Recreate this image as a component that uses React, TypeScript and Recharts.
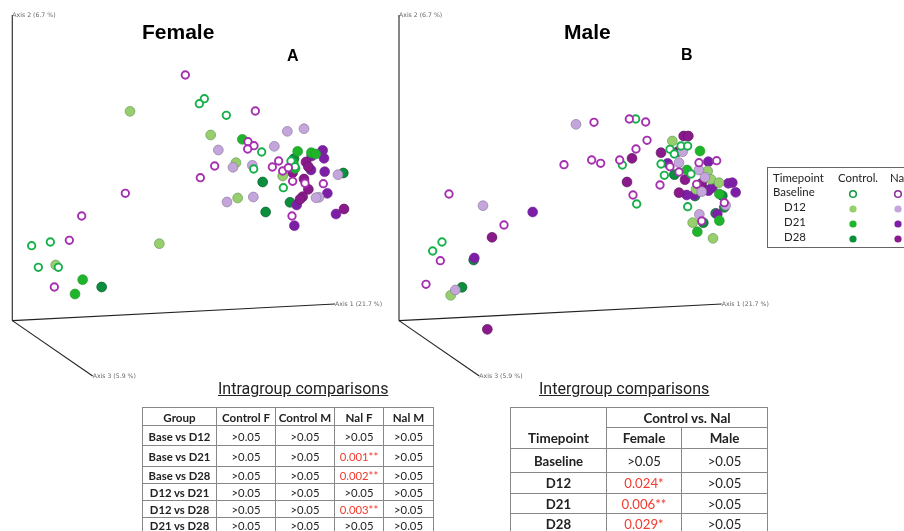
import { ScatterChart, Scatter, XAxis, YAxis, ReferenceLine, ReferenceDot } from 'recharts'

// ordination scores, [axis 1, axis 2]
const femaleBaseControl = [[576,666],[561,651],[642,616],[748,506],[724,455],[813,399],[58,225],[114,236],[78,160],[138,160],[836,479],[848,462]]
const femaleBaseNal = [[519,737],[729,629],[707,537],[725,525],[706,515],[607,464],[564,429],[339,382],[208,314],[171,241],[126,101],[799,479],[780,461],[811,449],[828,459],[841,418],[933,411],[839,314],[878,412]]
const femaleD12Control = [[353,628],[595,557],[671,474],[811,434],[676,368],[441,231],[130,167]]
const femaleD12Nal = [[825,568],[875,576],[786,523],[618,512],[662,460],[720,466],[723,371],[644,356],[920,370],[977,438],[911,369]]
const femaleD21Control = [[690,544],[856,508],[897,504],[910,500],[848,457],[211,123],[188,80],[843,472]]
const femaleD21Nal = [[931,511],[935,487],[898,494],[896,452],[937,447],[945,382],[853,347],[971,320],[846,285]]
const femaleD28Control = [[845,486],[751,416],[833,355],[760,326],[993,443],[268,101]]
const femaleD28Nal = [[881,476],[888,462],[841,444],[875,425],[888,394],[871,372],[995,335],[863,364]]

const maleBaseControl = [[710,605],[670,467],[786,470],[796,436],[713,350],[866,342],[129,236],[101,209],[813,514],[846,524],[866,524],[826,500],[876,440]]
const maleBaseNal = [[585,595],[691,605],[740,596],[744,541],[711,515],[495,468],[578,482],[605,472],[662,482],[783,407],[702,377],[150,380],[315,287],[124,180],[81,109],[953,480],[900,474],[813,462],[840,446],[908,299],[893,409],[976,354]]
const maleD12Control = [[820,539],[926,449],[936,424],[960,414],[891,394],[881,294],[942,247],[155,76]]
const maleD12Nal = [[531,589],[252,345],[169,92],[840,474],[851,507],[900,452],[918,430],[901,319],[980,346],[908,387]]
const maleD21Control = [[903,509],[864,452],[961,380],[895,267],[961,300]]
const maleD21Nal = [[401,326],[226,188],[806,472],[928,477],[988,412],[1000,414],[1010,385],[863,377],[885,377],[928,390],[940,399],[955,320]]
const maleD28Control = [[189,100],[224,182],[826,438],[928,392],[970,375],[888,374],[913,294],[950,322],[976,340]]
const maleD28Nal = [[854,554],[868,554],[786,504],[699,487],[684,416],[279,250],[265,-26],[858,423],[840,384],[908,412],[836,507]]

const timepoints = ['Baseline', 'D12', 'D21', 'D28']
const intraHead = ['Group', 'Control F', 'Control M', 'Nal F', 'Nal M']
const intraRows = [
  ['Base vs D12', '>0.05', '>0.05', '>0.05', '>0.05'],
  ['Base vs D21', '>0.05', '>0.05', '0.001**', '>0.05'],
  ['Base vs D28', '>0.05', '>0.05', '0.002**', '>0.05'],
  ['D12 vs D21', '>0.05', '>0.05', '>0.05', '>0.05'],
  ['D12 vs D28', '>0.05', '>0.05', '0.003**', '>0.05'],
  ['D21 vs D28', '>0.05', '>0.05', '>0.05', '>0.05'],
]
const intraHeights = [18, 20, 21, 17, 17, 17, 18]
const intraCols = [74, 59, 59, 49, 50]
const interRows = [
  ['Baseline', '>0.05', '>0.05'],
  ['D12', '0.024*', '>0.05'],
  ['D21', '0.006**', '>0.05'],
  ['D28', '0.029*', '>0.05'],
]
const interHeights = [24, 21, 20, 20]

const axis1 = 'Axis 1 (21.7 %)'
const axis2 = 'Axis 2 (6.7 %)'
const axis3 = 'Axis 3 (5.9 %)'

const open = { control: '#16b04a', nal: '#a52fae' }
const fills = {
  d12c: ['#97cf6c', '#6f9c62'],
  d12n: ['#c4a6dd', '#8f7d9f'],
  d21c: ['#1fb52a', '#2a9a34'],
  d21n: ['#7d1fa6', '#7a2a9a'],
  d28c: ['#0b8f3d', '#0a5a2c'],
  d28n: ['#8a1a8c', '#5f1a62'],
}

const toPts = (arr: number[][]) => arr.map(([x, y]) => ({ x, y }))
const hollow = (color: string) => (p: any) => (
  <circle cx={p.cx} cy={p.cy} r={3.7} fill="#fff" stroke={color} strokeWidth={1.9} />
)
const solid = (c: string[]) => (p: any) => (
  <circle cx={p.cx} cy={p.cy} r={4.9} fill={c[0]} stroke={c[1]} strokeWidth={0.7} />
)

const Panel = ({ xMin, series, left }: { xMin: number; series: any; left: number }) => {
  const labelStyle = { fontSize: 6.2, fill: '#666', fontFamily: 'DejaVu Sans' }
  return (
    <div style={{ position: 'absolute', left, top: 0 }}>
      <ScatterChart width={400} height={385} margin={{ top: 0, right: 0, bottom: 0, left: 0 }}>
        <XAxis type="number" dataKey="x" hide domain={[xMin, xMin + 1200]} />
        <YAxis type="number" dataKey="y" hide domain={[-193, 962]} />
        <ReferenceLine segment={[{ x: 0, y: 0 }, { x: 0, y: 917 }]} stroke="#444" strokeWidth={1.3} />
        <ReferenceLine segment={[{ x: 0, y: 0 }, { x: 968, y: 50 }]} stroke="#222" strokeWidth={1.1} />
        <ReferenceLine segment={[{ x: 0, y: 0 }, { x: 241, y: -166 }]} stroke="#222" strokeWidth={1.1} />
        <ReferenceDot x={0} y={917} r={0} label={{ value: axis2, position: 'right', offset: 0, ...labelStyle }} />
        <ReferenceDot x={968} y={50} r={0} label={{ value: axis1, position: 'right', offset: 0, ...labelStyle }} />
        <ReferenceDot x={241} y={-166} r={0} label={{ value: axis3, position: 'right', offset: 0, ...labelStyle }} />
        <Scatter data={toPts(series.d28c)} shape={solid(fills.d28c)} isAnimationActive={false} />
        <Scatter data={toPts(series.d21n)} shape={solid(fills.d21n)} isAnimationActive={false} />
        <Scatter data={toPts(series.d28n)} shape={solid(fills.d28n)} isAnimationActive={false} />
        <Scatter data={toPts(series.d21c)} shape={solid(fills.d21c)} isAnimationActive={false} />
        <Scatter data={toPts(series.d12c)} shape={solid(fills.d12c)} isAnimationActive={false} />
        <Scatter data={toPts(series.d12n)} shape={solid(fills.d12n)} isAnimationActive={false} />
        <Scatter data={toPts(series.baseC)} shape={hollow(open.control)} isAnimationActive={false} />
        <Scatter data={toPts(series.baseN)} shape={hollow(open.nal)} isAnimationActive={false} />
      </ScatterChart>
    </div>
  )
}

const abs = (left: number, top: number, extra: any = {}) => ({ position: 'absolute' as const, left, top, ...extra })
const heading = { fontFamily: 'Liberation Sans', fontWeight: 700, color: '#000', lineHeight: 1 }
const cap = { fontFamily: 'Roboto', fontSize: 16, textDecoration: 'underline', color: '#222', lineHeight: 1, whiteSpace: 'nowrap' as const }
const cell = { border: '1px solid #888', padding: 0, paddingTop: 2, textAlign: 'center' as const, fontFamily: 'Lato', whiteSpace: 'nowrap' as const, overflow: 'hidden', color: '#222', lineHeight: 1 }

const pColor = (v: string) => (v.startsWith('>') ? '#222' : '#f23a2e')

const Dot = ({ row, kind }: { row: number; kind: 'c' | 'n' }) => {
  if (row === 0) {
    return <svg width={10} height={10}><circle cx={5} cy={5} r={3.3} fill="#fff" stroke={kind === 'c' ? '#0d9a3e' : '#8c2a9a'} strokeWidth={1.5} /></svg>
  }
  const key = ['', 'd12', 'd21', 'd28'][row] + kind
  return <svg width={10} height={10}><circle cx={5} cy={5} r={3.6} fill={(fills as any)[key][0]} /></svg>
}

const Legend = () => (
  <div style={abs(767, 167, { width: 160, height: 81, border: '1px solid #666', boxSizing: 'border-box', fontFamily: 'Lato', fontSize: 11.4, color: '#222', background: '#fff' })}>
    <span style={abs(5, 3)}>Timepoint</span>
    <span style={abs(70, 3)}>Control.</span>
    <span style={abs(122, 3)}>Nal</span>
    {timepoints.map((t, i) => (
      <div key={t}>
        <span style={abs(i === 0 ? 5 : 16, 17 + i * 15)}>{t}</span>
        <span style={abs(80, 20 + i * 15)}><Dot row={i} kind="c" /></span>
        <span style={abs(125, 20 + i * 15)}><Dot row={i} kind="n" /></span>
      </div>
    ))}
  </div>
)

const App = () => (
  <div style={{ position: 'absolute', left: 0, top: 0, width: 904, height: 531, overflow: 'hidden', background: '#fff', filter: 'blur(0.45px)' }}>
    <Panel left={0} xMin={-37} series={{ baseC: femaleBaseControl, baseN: femaleBaseNal, d12c: femaleD12Control, d12n: femaleD12Nal, d21c: femaleD21Control, d21n: femaleD21Nal, d28c: femaleD28Control, d28n: femaleD28Nal }} />
    <Panel left={395} xMin={-12} series={{ baseC: maleBaseControl, baseN: maleBaseNal, d12c: maleD12Control, d12n: maleD12Nal, d21c: maleD21Control, d21n: maleD21Nal, d28c: maleD28Control, d28n: maleD28Nal }} />

    <div style={abs(142, 21, { ...heading, fontSize: 21 })}>Female</div>
    <div style={abs(287, 48, { ...heading, fontSize: 16 })}>A</div>
    <div style={abs(564, 21, { ...heading, fontSize: 21 })}>Male</div>
    <div style={abs(681, 47, { ...heading, fontSize: 16 })}>B</div>

    <Legend />

    <div style={abs(218, 381, cap)}>Intragroup comparisons</div>
    <div style={abs(539, 381, cap)}>Intergroup comparisons</div>

    <table style={abs(142, 407, { borderCollapse: 'collapse', tableLayout: 'fixed', width: 291 })}>
      <colgroup>{intraCols.map((w, i) => <col key={i} style={{ width: w }} />)}</colgroup>
      <tbody>
        <tr style={{ height: intraHeights[0] }}>
          {intraHead.map(h => <td key={h} style={{ ...cell, fontWeight: 700, fontSize: 11.6 }}>{h}</td>)}
        </tr>
        {intraRows.map((r, i) => (
          <tr key={r[0]} style={{ height: intraHeights[i + 1] }}>
            {r.map((v, j) => (
              <td key={j} style={{ ...cell, fontWeight: j === 0 ? 700 : 400, fontSize: 11.3, color: j === 0 ? '#222' : pColor(v), paddingTop: i === 5 ? 2 : 2, verticalAlign: i === 5 ? 'top' : 'middle' }}>{v}</td>
            ))}
          </tr>
        ))}
      </tbody>
    </table>

    <table style={abs(510, 407, { borderCollapse: 'collapse', tableLayout: 'fixed', width: 257 })}>
      <colgroup><col style={{ width: 96 }} /><col style={{ width: 75 }} /><col style={{ width: 86 }} /></colgroup>
      <tbody>
        <tr style={{ height: 20 }}>
          <td rowSpan={2} style={{ ...cell, fontWeight: 700, fontSize: 13.4, verticalAlign: 'bottom', paddingBottom: 3 }}>Timepoint</td>
          <td colSpan={2} style={{ ...cell, fontWeight: 700, fontSize: 13.4 }}>Control vs. Nal</td>
        </tr>
        <tr style={{ height: 21 }}>
          <td style={{ ...cell, fontWeight: 700, fontSize: 13.4 }}>Female</td>
          <td style={{ ...cell, fontWeight: 700, fontSize: 13.4 }}>Male</td>
        </tr>
        {interRows.map((r, i) => (
          <tr key={r[0]} style={{ height: interHeights[i] }}>
            {r.map((v, j) => (
              <td key={j} style={{ ...cell, fontWeight: j === 0 ? 700 : 400, fontSize: 13.2, color: j === 0 ? '#222' : pColor(v) }}>{v}</td>
            ))}
          </tr>
        ))}
      </tbody>
    </table>
  </div>
)

export default App
